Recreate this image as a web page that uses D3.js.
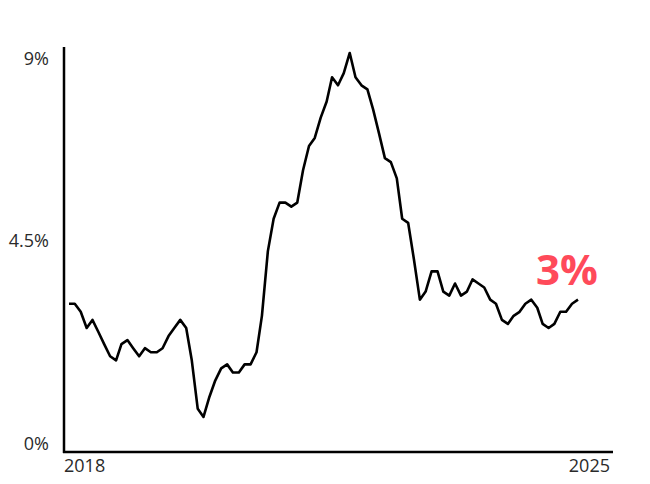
<!DOCTYPE html>
<html>
<head>
<meta charset="utf-8">
<script src="https://cdn.jsdelivr.net/npm/d3@7"></script>
<style>
  html, body { margin: 0; padding: 0; background: #fff; }
  svg { display: block; }
</style>
</head>
<body>
<svg id="chart" width="650" height="484"></svg>
<script>
// US CPI, year-over-year change, monthly from June 2018 to September 2025
const startMonth = "2018-06";
const cpiValues = [
  2.9, 2.9, 2.7, 2.3, 2.5, 2.2, 1.9,
  1.6, 1.5, 1.9, 2.0, 1.8, 1.6, 1.8, 1.7, 1.7, 1.8, 2.1, 2.3,
  2.5, 2.3, 1.5, 0.3, 0.1, 0.6, 1.0, 1.3, 1.4, 1.2, 1.2, 1.4,
  1.4, 1.7, 2.6, 4.2, 5.0, 5.4, 5.4, 5.3, 5.4, 6.2, 6.8, 7.0,
  7.5, 7.9, 8.5, 8.3, 8.6, 9.1, 8.5, 8.3, 8.2, 7.7, 7.1, 6.5,
  6.4, 6.0, 5.0, 4.9, 4.0, 3.0, 3.2, 3.7, 3.7, 3.2, 3.1, 3.4,
  3.1, 3.2, 3.5, 3.4, 3.3, 3.0, 2.9, 2.5, 2.4, 2.6, 2.7, 2.9,
  3.0, 2.8, 2.4, 2.3, 2.4, 2.7, 2.7, 2.9, 3.0
];
const yTickValues = [0, 4.5, 9];
const yTickLabels = ["0%", "4.5%", "9%"];
const xTickLabels = ["2018", "2025"];
const latestLabel = "3%";

const parse = d3.timeParse("%Y-%m");
const t0 = parse(startMonth);
const data = cpiValues.map((v, i) => ({ date: d3.timeMonth.offset(t0, i), value: v }));

const svg = d3.select("#chart");
const plot = { left: 64, right: 613, top: 47, bottom: 452 };

const x = d3.scaleTime()
  .domain(d3.extent(data, d => d.date))
  .range([69, 578]);
const y = d3.scaleLinear()
  .domain([0, 9])
  .range([421, 57]);

const font = "'Open Sans', sans-serif";

// axes lines
svg.append("line")
  .attr("x1", plot.left).attr("x2", plot.left)
  .attr("y1", plot.top).attr("y2", plot.bottom + 1)
  .attr("stroke", "#000").attr("stroke-width", 2.5);
svg.append("line")
  .attr("x1", plot.left - 1).attr("x2", plot.right)
  .attr("y1", plot.bottom).attr("y2", plot.bottom)
  .attr("stroke", "#000").attr("stroke-width", 2.5);

// y tick labels
svg.append("g").selectAll("text")
  .data(yTickValues)
  .join("text")
  .attr("x", 49)
  .attr("y", (v) => v === 0 ? plot.bottom - 2 : y(v) + 8)
  .attr("text-anchor", "end")
  .attr("font-family", font)
  .attr("font-size", 18)
  .attr("fill", "#2a2a2a")
  .text((v, i) => yTickLabels[i]);

// x tick labels
svg.append("g").selectAll("text")
  .data(xTickLabels)
  .join("text")
  .attr("x", (d, i) => i === 0 ? plot.left : plot.right - 3)
  .attr("y", 472)
  .attr("text-anchor", (d, i) => i === 0 ? "start" : "end")
  .attr("font-family", font)
  .attr("font-size", 18)
  .attr("fill", "#2a2a2a")
  .text(d => d);

// line
const line = d3.line()
  .x(d => x(d.date))
  .y(d => y(d.value));
svg.append("path")
  .datum(data)
  .attr("fill", "none")
  .attr("stroke", "#000")
  .attr("stroke-width", 2.6)
  .attr("stroke-linejoin", "round")
  .attr("d", line);

// latest value label
const last = data[data.length - 1];
svg.append("text")
  .attr("x", x(last.date) - 11)
  .attr("y", y(last.value) - 15)
  .attr("text-anchor", "middle")
  .attr("font-family", font)
  .attr("font-weight", 700)
  .attr("font-size", 42)
  .attr("fill", "#ff4a5a")
  .text(latestLabel);
</script>
</body>
</html>
